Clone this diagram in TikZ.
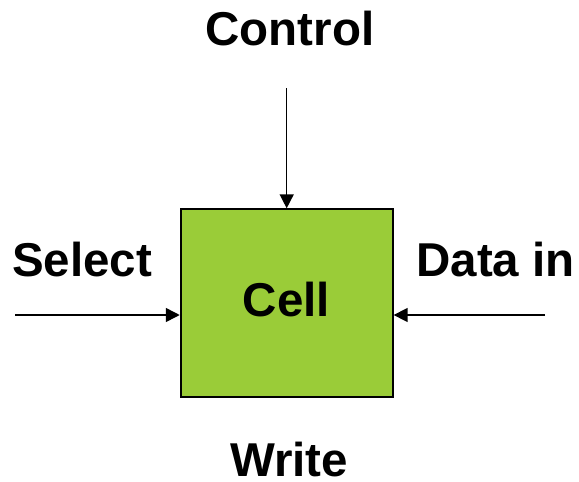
\documentclass[tikz,border=0pt]{standalone}
\usepackage{fontspec}
\setmainfont{Liberation Sans}
\usetikzlibrary{arrows.meta}
\definecolor{cellgreen}{RGB}{154,204,56}
\tikzset{
  lbl/.style={font=\bfseries\fontsize{47.5}{50}\selectfont, inner sep=0pt, anchor=base, text depth=0pt},
  cellbox/.style={draw=black, line width=1.9pt, fill=cellgreen, minimum width=212pt, minimum height=187.5pt, inner sep=0pt},
  conn/.style={line width=1.5pt, -{Triangle[length=14pt,width=14pt]}}
}
\begin{document}
\begin{tikzpicture}[x=1pt,y=-1pt]
\useasboundingbox (0,0) rectangle (579,482);
\node[cellbox] (box) at (286.7,303) {};
\node[lbl] (cell) at (286.3,316.7) {Cell};
\node[lbl] (control) at (290,45) {Control};
\node[lbl] (select) at (82,276.7) {Select};
\node[lbl] (datain) at (495.5,276.7) {Data in};
\node[lbl] (write) at (289,476) {Write};
\coordinate (ctop) at (286.7,88);
\coordinate (sl) at (15,315);
\coordinate (dr) at (545,315);
\draw[conn] (ctop) -- (box.north);
\draw[conn] (sl) -- (sl -| box.west);
\draw[conn] (dr) -- (dr -| box.east);
\end{tikzpicture}
\end{document}
